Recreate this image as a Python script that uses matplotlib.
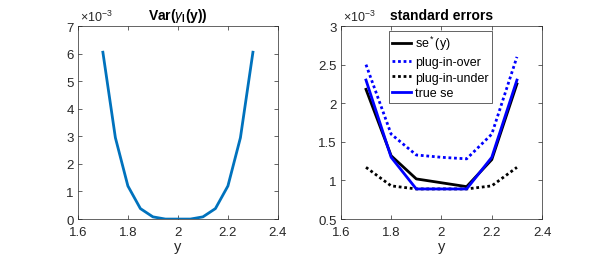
import matplotlib
matplotlib.use("Agg")
import matplotlib.pyplot as plt

plt.rcParams['font.family'] = ['Liberation Sans', 'DejaVu Sans']
plt.rcParams['mathtext.fontset'] = 'custom'
plt.rcParams['mathtext.rm'] = 'Liberation Sans'
plt.rcParams['mathtext.it'] = 'Liberation Sans:italic'
plt.rcParams['mathtext.bf'] = 'Liberation Sans:bold'

# Left panel data
y_left = [1.7, 1.75, 1.8, 1.85, 1.9, 1.95, 2.0, 2.05, 2.1, 2.15, 2.2, 2.25, 2.3]
var_gamma = [6.05, 2.95, 1.2, 0.38, 0.08, 0.0, 0.0, 0.0, 0.08, 0.38, 1.2, 2.95, 6.05]  # x1e-3

# Right panel data
y_right = [1.7, 1.8, 1.9, 2.0, 2.1, 2.2, 2.3]
se_star = [2.18, 1.32, 1.02, 0.97, 0.92, 1.27, 2.25]      # x1e-3
plug_over = [2.50, 1.60, 1.33, 1.30, 1.28, 1.60, 2.60]
plug_under = [1.17, 0.93, 0.89, 0.89, 0.89, 0.93, 1.17]
true_se = [2.30, 1.30, 0.89, 0.89, 0.89, 1.30, 2.30]

xticks = [1.6, 1.8, 2.0, 2.2, 2.4]
xticklabels = ['1.6', '1.8', '2', '2.2', '2.4']

fig = plt.figure(figsize=(5.99, 2.55), dpi=100)
ax1 = fig.add_axes([0.130, 0.137, 0.334, 0.757])
ax2 = fig.add_axes([0.569, 0.137, 0.336, 0.757])

gray = '#262626'
for ax in (ax1, ax2):
    ax.tick_params(direction='in', length=3, width=0.5, colors=gray, labelsize=9.5,
                   top=True, right=True, pad=3)
    ax.tick_params(axis='x', pad=5)
    for s in ax.spines.values():
        s.set_linewidth(0.5)
        s.set_color(gray)
    ax.set_xlim(1.6, 2.4)
    ax.set_xticks(xticks)
    ax.set_xticklabels(xticklabels)
    ax.set_xlabel('y', fontsize=10.5, color=gray, labelpad=1)

ax1.plot(y_left, var_gamma, color='#0072BD', lw=2)
ax1.set_ylim(0, 7)
ax1.set_yticks(range(0, 8))
ax1.set_title(r'Var($\gamma_{\mathbf{l}}$(y))', fontsize=10, fontweight='bold', pad=5)
ax1.text(0.01, 1.01, r'$\times10^{-3}$', transform=ax1.transAxes, fontsize=9, color=gray,
         ha='left', va='bottom')

ax2.plot(y_right, se_star, color='black', lw=2, label=r'se$^*$(y)')
ax2.plot(y_right, plug_over, color='blue', lw=2, ls=(0, (1, 1)), label='plug-in-over')
ax2.plot(y_right, plug_under, color='black', lw=2, ls=(0, (1, 1)), label='plug-in-under')
ax2.plot(y_right, true_se, color='blue', lw=2, label='true se')
ax2.set_ylim(0.5, 3)
ax2.set_yticks([0.5, 1, 1.5, 2, 2.5, 3])
ax2.set_yticklabels(['0.5', '1', '1.5', '2', '2.5', '3'])
ax2.set_title('standard errors', fontsize=10, fontweight='bold', pad=5)
ax2.text(0.01, 1.01, r'$\times10^{-3}$', transform=ax2.transAxes, fontsize=9, color=gray,
         ha='left', va='bottom')
leg = ax2.legend(loc='upper left', bbox_to_anchor=(0.24, 0.975), fontsize=9,
                 handlelength=1.5, handletextpad=0.3, labelspacing=0.3,
                 borderpad=0.25, borderaxespad=0, fancybox=False, framealpha=1)
leg.get_frame().set_edgecolor(gray)
leg.get_frame().set_linewidth(0.5)

fig.savefig('out.png', dpi=100)
